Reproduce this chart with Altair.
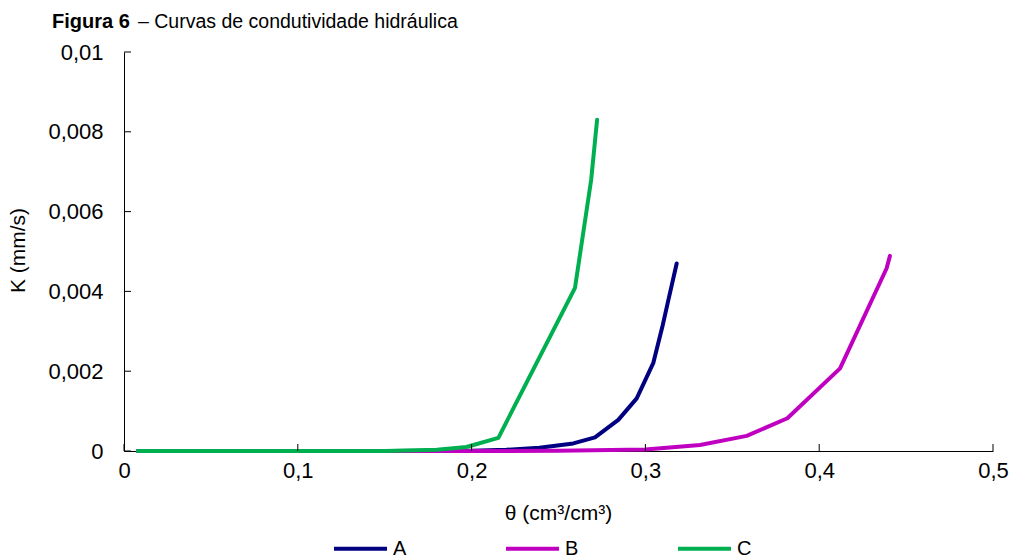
import altair as alt
import pandas as pd

# ---- data ----
series_names = ["A", "B", "C"]
series_colors = ["#000080", "#C000C0", "#00B050"]

a_theta = [0.008, 0.05, 0.10, 0.15, 0.20, 0.22, 0.239, 0.2585, 0.271, 0.2844, 0.295, 0.3045, 0.310, 0.3132, 0.318]
a_k = [0.0, 0.0, 0.0, 0.000001, 0.000008, 0.00003, 0.00008, 0.00019, 0.00034, 0.00078, 0.00132, 0.0022, 0.00316, 0.00378, 0.0047]

b_theta = [0.008, 0.05, 0.10, 0.15, 0.20, 0.25, 0.30, 0.3314, 0.3583, 0.3817, 0.412, 0.4388, 0.4407]
b_k = [0.0, 0.0, 0.0, 0.0, 0.000001, 0.000005, 0.00004, 0.00015, 0.00038, 0.00082, 0.00207, 0.00458, 0.00489]

c_theta = [0.008, 0.05, 0.10, 0.15, 0.18, 0.197, 0.2154, 0.2595, 0.2688, 0.2722]
c_k = [0.0, 0.0, 0.0, 0.000003, 0.00003, 0.0001, 0.00033, 0.00409, 0.0068, 0.0083]

x_ticks = [0, 0.1, 0.2, 0.3, 0.4, 0.5]
y_ticks = [0, 0.002, 0.004, 0.006, 0.008, 0.01]

title_bold = "Figura 6"
title_rest = "– Curvas de condutividade hidráulica"
x_title = "θ (cm³/cm³)"
y_title = "K (mm/s)"

rows = []
for name, xs, ys in [("A", a_theta, a_k), ("B", b_theta, b_k), ("C", c_theta, c_k)]:
    for i, (xv, yv) in enumerate(zip(xs, ys)):
        rows.append({"serie": name, "theta": xv, "k": yv, "i": i})
df = pd.DataFrame(rows)

FONT = "Liberation Sans"
W, H = 869, 399
label_expr = "replace(format(datum.value, '~g'), '.', ',')"

xscale = alt.Scale(domain=[0, 0.5], nice=False)
yscale = alt.Scale(domain=[0, 0.01], nice=False)

lines = alt.Chart(df).mark_line(strokeWidth=4, strokeCap="round", strokeJoin="round").encode(
    x=alt.X("theta:Q", scale=xscale, title=x_title,
            axis=alt.Axis(values=x_ticks, title=x_title, labelExpr=label_expr, grid=False,
                          ticks=False, tickSize=0, domain=True, domainColor="#000000", domainWidth=1,
                          labelFlush=False, labelOverlap=False,
                          labelFont=FONT, labelFontSize=22, labelColor="#000000", labelPadding=9,
                          titleFont=FONT, titleFontSize=21, titleFontWeight="normal", titleColor="#000000",
                          titleX=434, titleY=62, titleBaseline="middle")),
    y=alt.Y("k:Q", scale=yscale, title=y_title,
            axis=alt.Axis(values=y_ticks, title=y_title, labelExpr=label_expr, grid=False,
                          ticks=False, tickSize=0, domain=True, domainColor="#000000", domainWidth=1,
                          labelFlush=False, labelOverlap=False,
                          labelFont=FONT, labelFontSize=22, labelColor="#000000", labelPadding=21,
                          titleFont=FONT, titleFontSize=21, titleFontWeight="normal", titleColor="#000000",
                          titleX=-106, titleY=198, titleBaseline="middle")),
    color=alt.Color("serie:N", scale=alt.Scale(domain=series_names, range=series_colors),
                    legend=alt.Legend(title=None, orient="none", legendX=208, legendY=468,
                                      direction="horizontal", symbolType="stroke", symbolSize=2809,
                                      symbolStrokeWidth=4, labelFont=FONT, labelFontSize=20,
                                      labelColor="#000000", labelOffset=4, columnPadding=91)),
    order="i:Q",
)

ytick_layer = alt.Chart(pd.DataFrame({"v": y_ticks})).mark_rule(color="#000000", strokeWidth=1).encode(
    y=alt.Y("v:Q", scale=yscale, title=y_title), x=alt.value(0), x2=alt.value(7)
)
xtick_layer = alt.Chart(pd.DataFrame({"v": x_ticks})).mark_rule(color="#000000", strokeWidth=1).encode(
    x=alt.X("v:Q", scale=xscale, title=x_title), y=alt.value(H), y2=alt.value(H - 7)
)

t1 = alt.Chart(pd.DataFrame({"t": [title_bold]})).mark_text(
    font=FONT, fontSize=20, fontWeight="bold", align="left", baseline="alphabetic", color="#000000"
).encode(text="t:N", x=alt.value(-72), y=alt.value(-24))
t2 = alt.Chart(pd.DataFrame({"t": [title_rest]})).mark_text(
    font=FONT, fontSize=19.5, align="left", baseline="alphabetic", color="#000000"
).encode(text="t:N", x=alt.value(14), y=alt.value(-24))

chart = alt.layer(lines, xtick_layer, ytick_layer, t1, t2).properties(
    width=W, height=H,
    autosize=alt.AutoSizeParams(type="none"),
    padding={"left": 124, "top": 52, "right": 20, "bottom": 108},
    background="white",
).configure_view(stroke=None)

chart.save("out.html", embed_options={"renderer": "svg", "actions": False})
